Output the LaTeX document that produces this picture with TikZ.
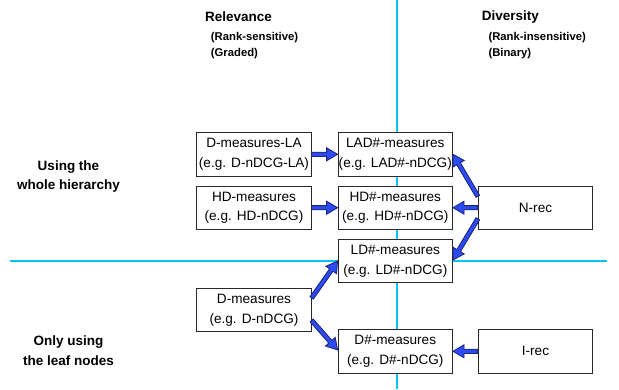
\documentclass[tikz,border=0pt]{standalone}
\usepackage{fontspec}
\setmainfont{Liberation Sans}
\usetikzlibrary{calc}
\definecolor{guide}{RGB}{10,195,245}
\definecolor{arrowfill}{RGB}{45,75,240}
\definecolor{arrowline}{RGB}{25,35,120}
\definecolor{boxline}{RGB}{40,40,40}
\tikzset{
  box/.style={draw=boxline, line width=0.9pt, fill=white, minimum width=114.5pt, minimum height=43.3pt,
    inner sep=0pt, align=center, font=\fontsize{13.6}{19.6}\selectfont},
  header/.style={anchor=west, inner sep=0pt, font=\bfseries\fontsize{13.5}{16}\selectfont},
  subheader/.style={anchor=west, inner sep=0pt, font=\bfseries\fontsize{11.3}{14}\selectfont},
  rowlabel/.style={align=center, inner sep=0pt, font=\bfseries\fontsize{13.5}{19.5}\selectfont},
  guideline/.style={draw=guide, line width=2pt},
}
\newcommand\fatarrow[2]{%
  \coordinate (fah) at ($(#2)!11pt!(#1)$);
  \filldraw[fill=arrowfill, draw=arrowline, line width=0.8pt, line join=miter]
    ($(#1)!2.1pt!90:(#2)$) -- ($(fah)!2.1pt!90:(#2)$) -- ($(fah)!6.5pt!90:(#2)$)
    -- (#2) -- ($(fah)!6.5pt!-90:(#2)$) -- ($(fah)!2.1pt!-90:(#2)$)
    -- ($(#1)!2.1pt!-90:(#2)$) -- cycle;}
\begin{document}
\begin{tikzpicture}[x=1pt, y=-1pt]
\useasboundingbox (0,0) rectangle (619,389);
% guide lines
\coordinate (vtop) at (397,0);
\coordinate (vbot) at (397,389);
\coordinate (hleft) at (10,261);
\coordinate (hright) at (607,261);
\draw[guideline] (vtop) -- (vbot);
\draw[guideline] (hleft) -- (hright);
% headers
\node[header] (rel) at (205,17) {Relevance};
\node[subheader] (rs) at (210.7,37.7) {(Rank-sensitive)};
\node[subheader] (gr) at (210.7,53.3) {(Graded)};
\node[header] (div) at (481.7,17) {Diversity};
\node[subheader] (ri) at (488.3,37.7) {(Rank-insensitive)};
\node[subheader] (bi) at (488.3,53.3) {(Binary)};
% row labels
\node[rowlabel] (whole) at (68.5,176.3) {Using the\\whole hierarchy};
\node[rowlabel] (leaf) at (68.5,350.5) {Only using\\the leaf nodes};
% boxes
\node[box] (dla) at (254,154.3) {D-measures-LA\\(e.g. D-nDCG-LA)};
\node[box] (lad) at (395.3,154.3) {LAD\#-measures\\(e.g. LAD\#-nDCG)};
\node[box] (hd) at (254,207.7) {HD-measures\\(e.g. HD-nDCG)};
\node[box] (hdh) at (395.3,207.7) {HD\#-measures\\(e.g. HD\#-nDCG)};
\node[box] (ld) at (395.3,261) {LD\#-measures\\(e.g. LD\#-nDCG)};
\node[box] (nrec) at (535.5,207.7) {N-rec};
\node[box] (dm) at (254,310) {D-measures\\(e.g. D-nDCG)};
\node[box] (dh) at (395.3,351.3) {D\#-measures\\(e.g. D\#-nDCG)};
\node[box] (irec) at (535.5,351.3) {I-rec};
% arrow end points
\coordinate (nrecup) at ($(nrec.north west)+(0,10.7)$);
\coordinate (nreclow) at ($(nrec.south west)+(0,-11)$);
\coordinate (dmup) at ($(dm.north east)+(0,10)$);
\coordinate (dmlow) at ($(dm.south east)+(0,-11.7)$);
\coordinate (dhin) at ($(dh.west)+(0,-1.3)$);
\coordinate (ldin) at ($(ld.east)+(0,-1)$);
% arrows
\fatarrow{dla.east}{lad.west}
\fatarrow{hd.east}{hdh.west}
\fatarrow{nrecup}{lad.east}
\fatarrow{nrec.west}{hdh.east}
\fatarrow{nreclow}{ldin}
\fatarrow{dmup}{ld.west}
\fatarrow{dmlow}{dhin}
\fatarrow{irec.west}{dh.east}
\end{tikzpicture}
\end{document}
